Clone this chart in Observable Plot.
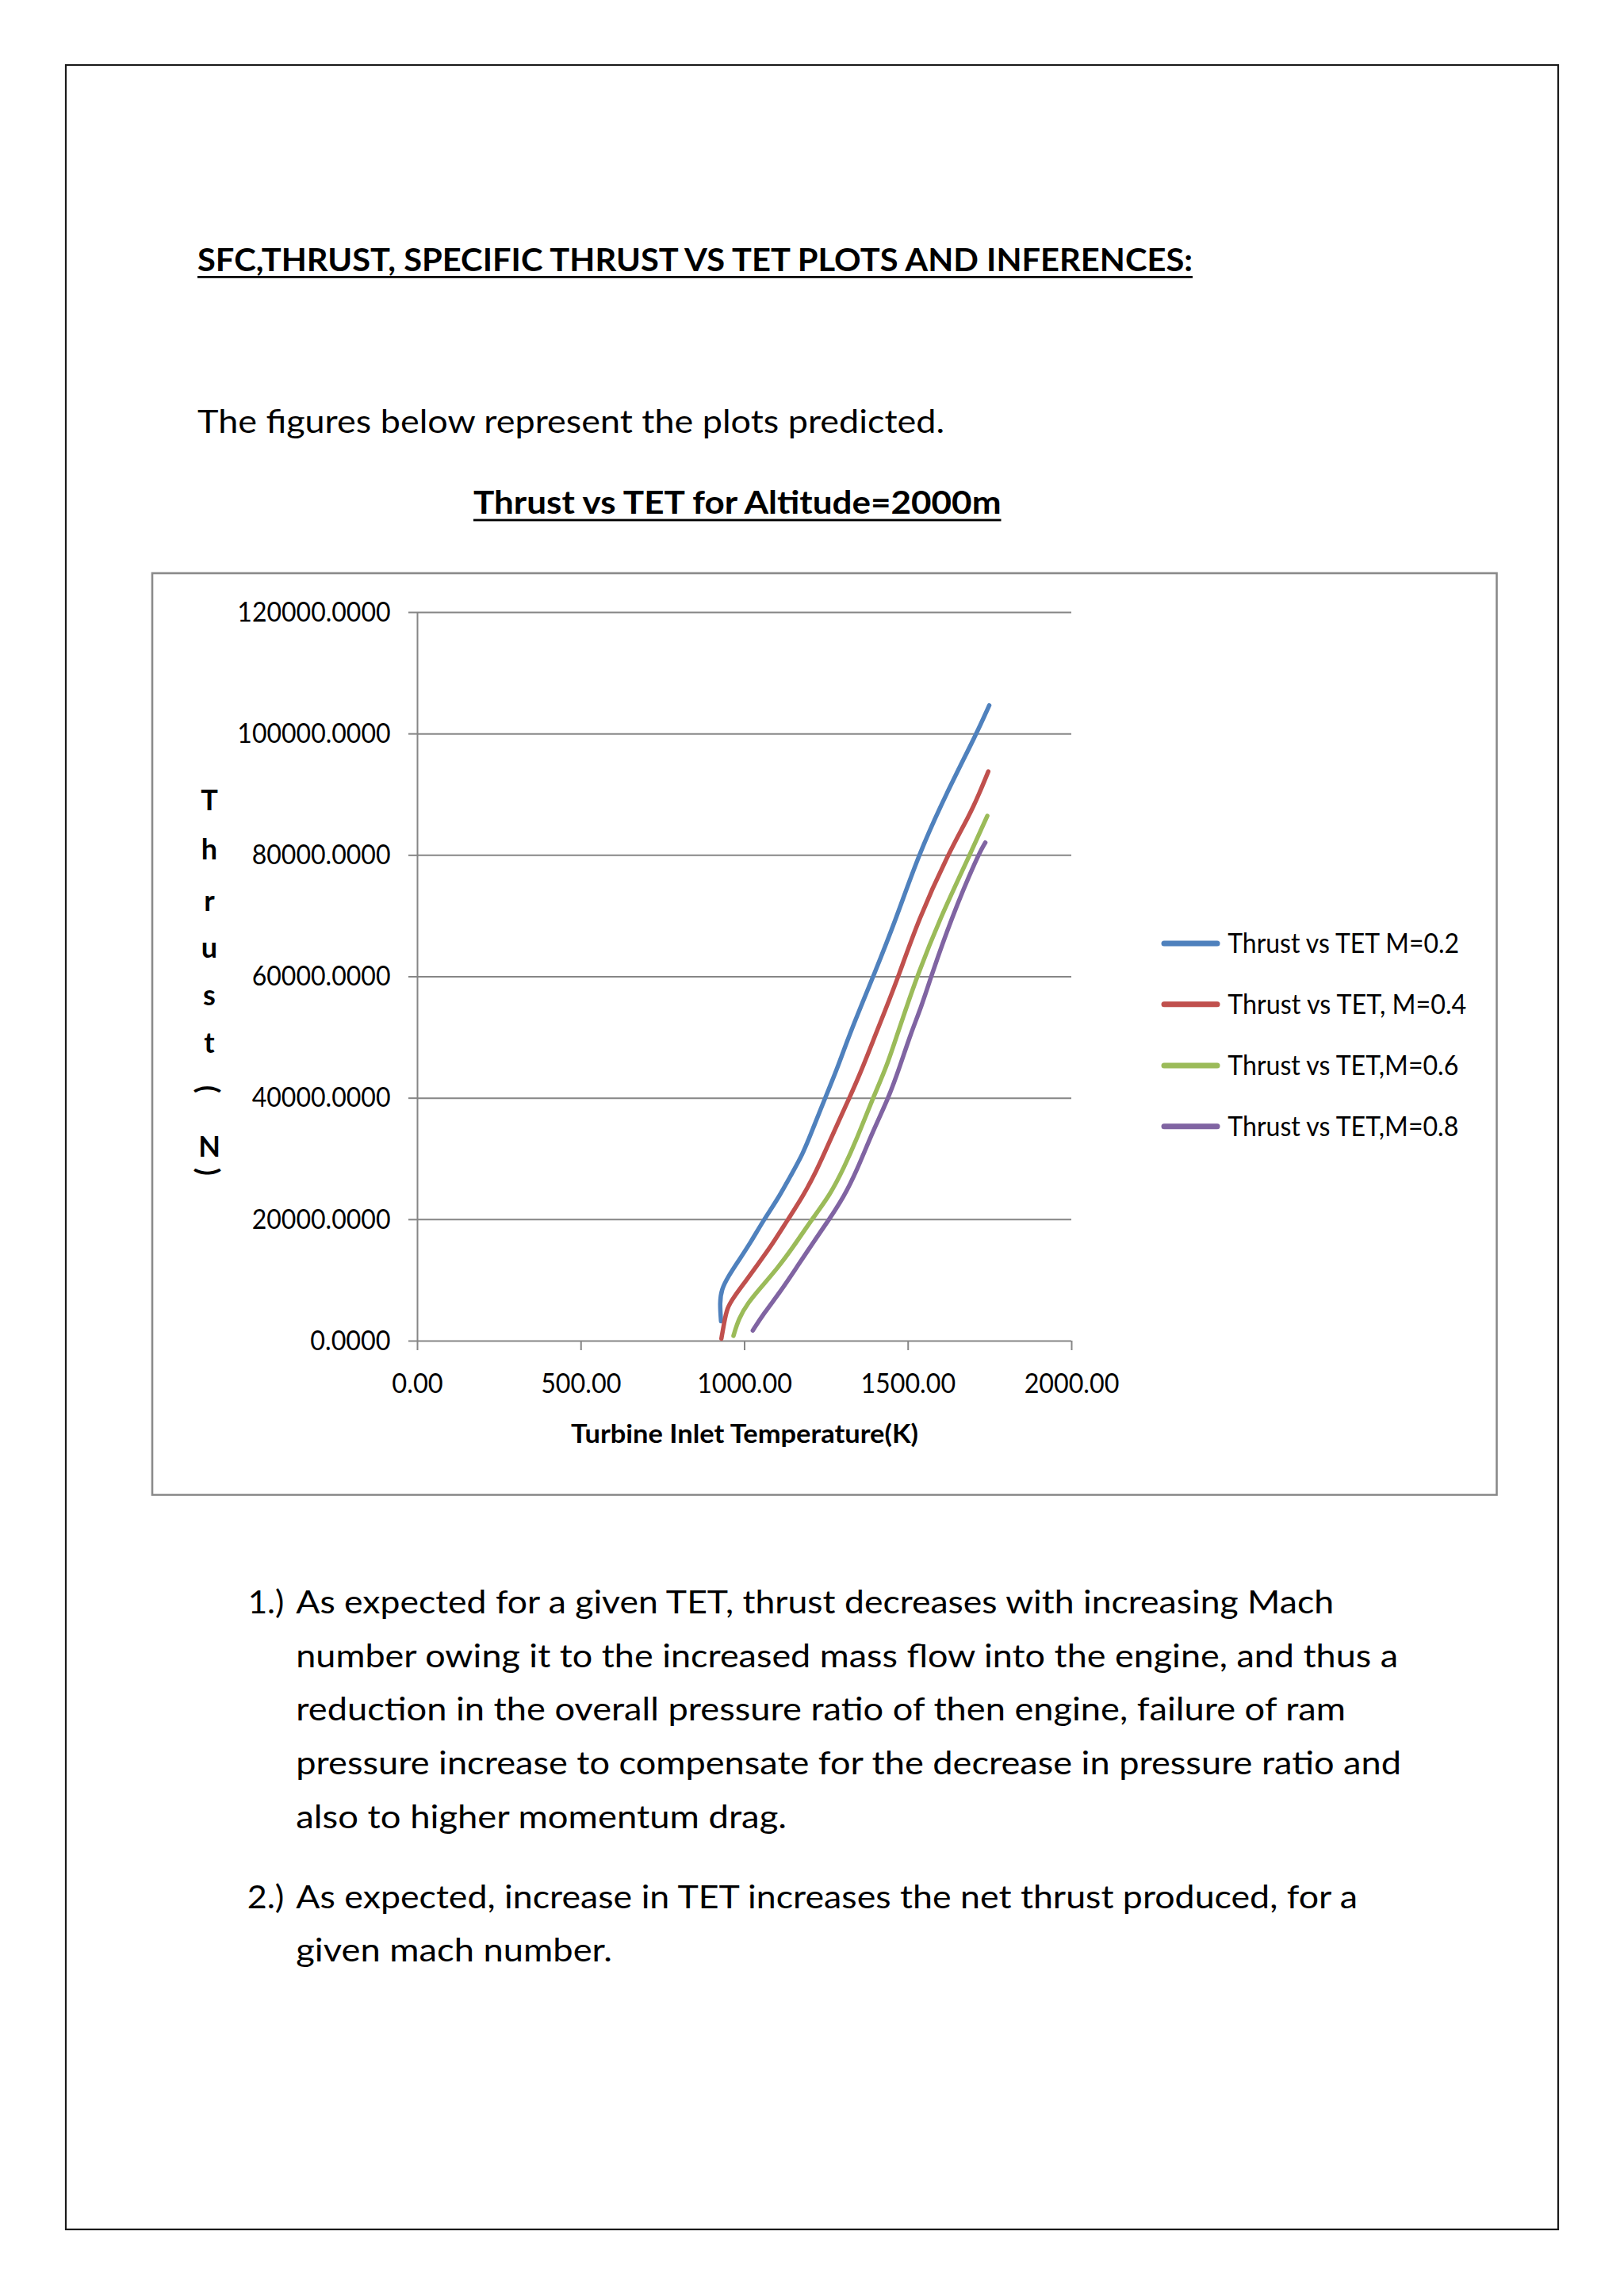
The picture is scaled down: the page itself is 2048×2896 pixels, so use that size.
<!DOCTYPE html>
<html>
<head>
<meta charset="utf-8">
<script src="https://cdn.jsdelivr.net/npm/d3@7"></script>
<script src="https://cdn.jsdelivr.net/npm/@observablehq/plot@0.6"></script>
<style>
  html, body { margin: 0; padding: 0; background: #ffffff; }
  #page { position: relative; width: 2048px; height: 2896px; overflow: hidden; background: #ffffff; }
  #chart { position: absolute; left: 192px; top: 722px; width: 1696px; height: 1164px; }
  #deco { position: absolute; left: 0; top: 0; pointer-events: none; }
</style>
</head>
<body>
<div id="page">
  <div id="chart"></div>
  <svg id="deco" width="2048" height="2896"></svg>
</div>
<script>
// ---------------- data ----------------
const seriesNames = ["Thrust vs TET M=0.2", "Thrust vs TET, M=0.4", "Thrust vs TET,M=0.6", "Thrust vs TET,M=0.8"];
const seriesColors = ["#4F81BD", "#C0504D", "#9BBB59", "#8064A2"];

// Turbine inlet temperature (K) and thrust (N) per Mach number
const tetM02 = [928, 924, 929, 950, 982, 1019, 1059, 1100, 1140, 1177, 1209, 1246, 1281, 1316, 1347, 1393, 1462, 1531, 1616, 1709, 1748];
const thrustM02 = [3260, 6300, 8480, 10650, 13260, 16300, 20000, 23260, 27170, 30650, 35000, 40000, 44570, 49780, 54000, 60000, 69350, 80000, 90130, 100000, 104700];

const tetM04 = [929, 937, 946, 966, 1002, 1043, 1084, 1132, 1177, 1220, 1256, 1292, 1320, 1354, 1392, 1430, 1470, 1531, 1620, 1688, 1717, 1745];
const thrustM04 = [400, 2830, 5430, 7170, 9780, 12830, 15870, 20000, 23700, 28040, 32390, 36740, 40000, 44130, 49350, 54500, 60000, 69350, 80000, 86650, 90130, 93800];

const tetM06 = [966, 982, 1010, 1051, 1100, 1148, 1205, 1262, 1303, 1343, 1392, 1433, 1465, 1495, 1527, 1595, 1688, 1742];
const thrustM06 = [870, 3700, 6300, 8910, 11960, 15430, 20000, 24130, 28480, 33260, 40000, 45000, 50220, 55000, 60000, 69350, 80000, 86500];

const tetM08 = [1025, 1059, 1108, 1157, 1205, 1258, 1303, 1343, 1392, 1440, 1476, 1508, 1540, 1570, 1630, 1713, 1736];
const thrustM08 = [1740, 4565, 8040, 11960, 15870, 20000, 23700, 28040, 34570, 40000, 45430, 50650, 55000, 60000, 69350, 80000, 82100];

const xTicks = [0, 500, 1000, 1500, 2000];
const yTicks = [0, 20000, 40000, 60000, 80000, 100000, 120000];

const xTitle = "Turbine Inlet Temperature(K)";
const yTitleChars = ["T", "h", "r", "u", "s", "t", "(", "N", ")"];

const heading = "SFC,THRUST, SPECIFIC THRUST VS TET PLOTS AND INFERENCES:";
const intro = "The figures below represent the plots predicted.";
const chartTitle = "Thrust vs TET for Altitude=2000m";
const item1Label = "1.)";
const item1Lines = [
  "As expected for a given TET, thrust decreases with increasing Mach",
  "number owing it to the increased mass flow into the engine, and thus a",
  "reduction in the overall pressure ratio of then engine, failure of ram",
  "pressure increase to compensate for the decrease in pressure ratio and",
  "also to higher momentum drag."
];
const item2Label = "2.)";
const item2Lines = [
  "As expected, increase in TET increases the net thrust produced, for a",
  "given mach number."
];

// ---------------- chart ----------------
const tets = [tetM02, tetM04, tetM06, tetM08];
const thrusts = [thrustM02, thrustM04, thrustM06, thrustM08];
const rows = [];
seriesNames.forEach((name, i) => {
  tets[i].forEach((t, j) => rows.push({series: name, T: t, F: thrusts[i][j]}));
});

const FONT = "Lato, 'Open Sans', sans-serif";
const GRID = "#868686";

const plot = Plot.plot({
  width: 1696,
  height: 1164,
  marginLeft: 334,
  marginRight: 537,
  marginTop: 50,
  marginBottom: 195,
  style: {fontFamily: FONT, fontSize: "35px", color: "#000", background: "transparent", overflow: "visible"},
  x: {domain: [0, 2000]},
  y: {domain: [0, 120000]},
  color: {domain: seriesNames, range: seriesColors},
  marks: [
    Plot.gridY({ticks: yTicks, stroke: GRID, strokeOpacity: 1, strokeWidth: 2}),
    Plot.ruleX([0], {y1: 0, y2: 120000, stroke: GRID, strokeWidth: 2}),
    Plot.axisY({ticks: yTicks, tickSize: 11, tickPadding: 23, tickFormat: d3.format(".4f"),
                stroke: GRID, strokeWidth: 2, fill: "#000", label: null}),
    Plot.axisX({ticks: xTicks, tickSize: 12, tickPadding: 29, tickFormat: d3.format(".2f"),
                stroke: GRID, strokeWidth: 2, fill: "#000", label: null}),
    Plot.line(rows, {x: "T", y: "F", z: "series", stroke: "series", strokeWidth: 5.5,
                     curve: "basis", strokeLinecap: "round", strokeLinejoin: "round"}),
    Plot.text([xTitle], {frameAnchor: "bottom", dy: 128, lineAnchor: "bottom",
                         fontWeight: "bold", fontSize: 32, fill: "#000"})
  ]
});
document.getElementById("chart").appendChild(plot);

// squeeze tick labels to the narrow Calibri-like widths of the original
function digitWidth(s, d) { let w = 0; for (const c of s) w += (c === "." ? 0.5 : 1) * d; return w; }
plot.querySelectorAll("text").forEach(t => {
  const s = t.textContent;
  if (/^[0-9.]+$/.test(s)) {
    t.setAttribute("textLength", digitWidth(s, 18.4));
    t.setAttribute("lengthAdjust", "spacingAndGlyphs");
  } else if (s === xTitle) {
    t.setAttribute("textLength", 438);
    t.setAttribute("lengthAdjust", "spacingAndGlyphs");
  }
});

// ---------------- page text & decorations ----------------
const deco = d3.select("#deco");

// page border
deco.append("rect").attr("x", 83).attr("y", 82).attr("width", 1882).attr("height", 2730)
  .attr("fill", "none").attr("stroke", "#1a1a1a").attr("stroke-width", 2.2);
// chart box
deco.append("rect").attr("x", 192).attr("y", 723).attr("width", 1695.5).attr("height", 1162.5)
  .attr("fill", "none").attr("stroke", "#8a8a8a").attr("stroke-width", 2.6);

function fitText(str, x, y, w, opts = {}) {
  const t = deco.append("text")
    .attr("x", x).attr("y", y)
    .attr("font-family", FONT)
    .attr("font-size", opts.size || 41)
    .attr("font-weight", opts.weight || "normal")
    .attr("fill", "#000")
    .text(str);
  if (w) t.attr("textLength", w).attr("lengthAdjust", "spacingAndGlyphs");
  return t;
}

// heading
fitText(heading, 249, 341.7, 1504 - 249, {weight: "bold"});
deco.append("rect").attr("x", 249).attr("y", 348).attr("width", 1504 - 249).attr("height", 2.8).attr("fill", "#000");
// intro
fitText(intro, 249, 546, 1191 - 249);
// chart title
fitText(chartTitle, 597, 647.7, 1262.5 - 597, {weight: "bold"});
deco.append("rect").attr("x", 597).attr("y", 654.6).attr("width", 1262.5 - 597).attr("height", 2.8).attr("fill", "#000");

// numbered items
const item1Ends = [1682, 1763, 1697, 1767, 992];
const item1Base = [2035, 2102.7, 2170.3, 2238.3, 2306];
fitText(item1Label, 312.7, 2035, 45.6);
item1Lines.forEach((s, i) => fitText(s, 373.3, item1Base[i], item1Ends[i] - 373.3));
const item2Ends = [1712, 772];
const item2Base = [2406.7, 2473.6];
fitText(item2Label, 311.7, 2406.7, 46.6);
item2Lines.forEach((s, i) => fitText(s, 373.3, item2Base[i], item2Ends[i] - 373.3));

// y-axis title: stacked characters, parentheses rotated
const yCharY = [1021.7, 1083.6, 1149, 1207.6, 1268, 1328, 1374, 1459, 1478];
yTitleChars.forEach((c, i) => {
  if (c === "(" || c === ")") {
    deco.append("text")
      .attr("transform", `translate(264,${yCharY[i]}) rotate(90)`)
      .attr("text-anchor", "middle").attr("dominant-baseline", "central")
      .attr("font-family", FONT).attr("font-size", 36).attr("font-weight", "bold").attr("fill", "#000")
      .text(c);
  } else {
    deco.append("text")
      .attr("x", 264).attr("y", yCharY[i])
      .attr("text-anchor", "middle")
      .attr("font-family", FONT).attr("font-size", 36).attr("font-weight", "bold").attr("fill", "#000")
      .text(c);
  }
});

// legend
const legY = [1190, 1266.7, 1344, 1420.7];
const legEnd = [1840, 1849.3, 1839.3, 1839.3];
seriesNames.forEach((name, i) => {
  deco.append("line").attr("x1", 1468).attr("x2", 1535).attr("y1", legY[i]).attr("y2", legY[i])
    .attr("stroke", seriesColors[i]).attr("stroke-width", 7).attr("stroke-linecap", "round");
  fitText(name, 1548.3, legY[i] + 12, legEnd[i] - 1548.3, {size: 35});
});
</script>
</body>
</html>
